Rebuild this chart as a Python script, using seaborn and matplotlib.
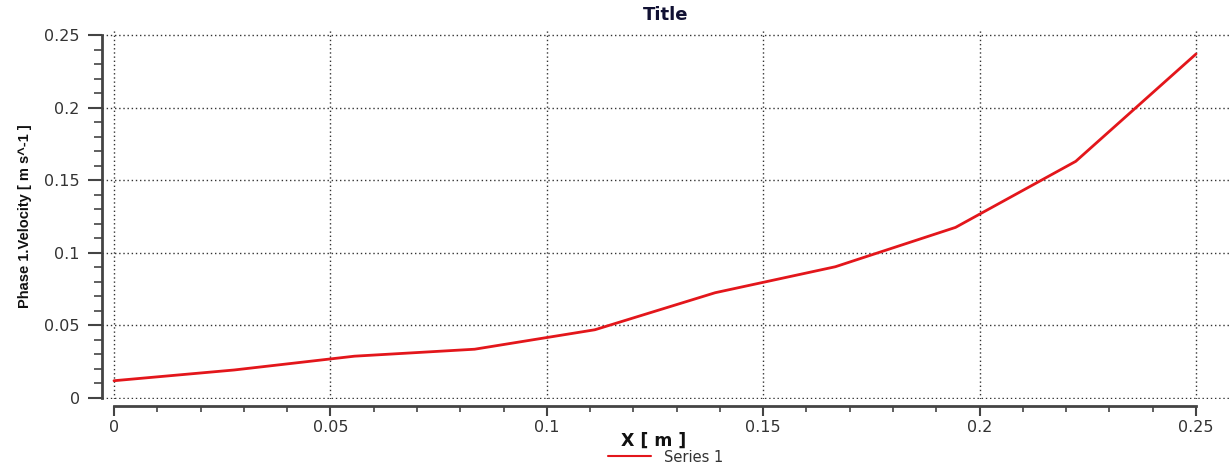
import numpy as np
import pandas as pd
import matplotlib
matplotlib.use("Agg")
import matplotlib.pyplot as plt
import seaborn as sns
from matplotlib.ticker import MultipleLocator, FixedLocator, FixedFormatter

# ---- data ----
x_m = [0.0, 0.02778, 0.05556, 0.08333, 0.11111, 0.13889, 0.16667, 0.19444, 0.22222, 0.25]
velocity = [0.0119, 0.0193, 0.0288, 0.0336, 0.0470, 0.0725, 0.0904, 0.1175, 0.1630, 0.2369]
series_name = "Series 1"
x_ticks = [0, 0.05, 0.1, 0.15, 0.2, 0.25]
x_tick_labels = ["0", "0.05", "0.1", "0.15", "0.2", "0.25"]
y_ticks = [0, 0.05, 0.1, 0.15, 0.2, 0.25]
y_tick_labels = ["0", "0.05", "0.1", "0.15", "0.2", "0.25"]

df = pd.DataFrame({"X": x_m, "V": velocity, "S": [series_name] * len(x_m)})

sns.set_style("white")
plt.rcParams["font.family"] = ["DejaVu Sans"]

W, H = 1229, 468
fig = plt.figure(figsize=(W / 100, H / 100), dpi=100)
ax = fig.add_axes([102 / W, (H - 399) / H, 1127 / W, 369 / H])

sns.lineplot(data=df, x="X", y="V", hue="S", palette=["#e3161b"], linewidth=2.0, ax=ax,
             legend=True)

ax.set_xlim(-12 * 0.25 / 1082, 0.25 + 33 * 0.25 / 1082)
ax.set_ylim(-0.25 / 363, 0.25 + 5 * 0.25 / 363)

ax.xaxis.set_major_locator(FixedLocator(x_ticks))
ax.xaxis.set_major_formatter(FixedFormatter(x_tick_labels))
ax.yaxis.set_major_locator(FixedLocator(y_ticks))
ax.yaxis.set_major_formatter(FixedFormatter(y_tick_labels))
ax.xaxis.set_minor_locator(MultipleLocator(0.01))
ax.yaxis.set_minor_locator(MultipleLocator(0.01))

ax.grid(True, which="major", linestyle=(0, (1, 2)), color="#333333", linewidth=1.0)
ax.set_axisbelow(True)

for s in ["top", "right"]:
    ax.spines[s].set_visible(False)
ax.spines["left"].set_color("#444444")
ax.spines["bottom"].set_color("#444444")
ax.spines["left"].set_linewidth(2)
ax.spines["bottom"].set_linewidth(2)
ax.spines["bottom"].set_position(("outward", 5.04))
ax.spines["left"].set_bounds(0, 0.25)
ax.spines["bottom"].set_bounds(0, 0.25)

ax.tick_params(axis="y", which="major", direction="out", length=10, width=1.5,
               color="#444444", labelsize=11.5, labelcolor="#333333", pad=6, left=True)
ax.tick_params(axis="y", which="minor", direction="out", length=6, width=1.2,
               color="#444444", left=True)
ax.tick_params(axis="x", which="major", direction="out", length=7, width=1.5,
               color="#444444", labelsize=11.5, labelcolor="#333333", pad=3, bottom=True)
ax.tick_params(axis="x", which="minor", direction="out", length=4, width=1.2,
               color="#444444", bottom=True)

ax.set_xlabel("X [ m ]", fontsize=12.5, fontweight="bold", color="#111111")
ax.xaxis.set_label_coords((654 - 102) / 1127, -(432 - 399) / 369)
ax.set_ylabel("Phase 1.Velocity [ m s^-1 ]", fontsize=10.5, fontweight="bold",
              family=["Liberation Sans Narrow", "Liberation Sans"], color="#111111")
ax.yaxis.set_label_coords((32 - 102) / 1127, (399 - 216) / 369)
ax.set_title("Title", fontsize=13, fontweight="bold", color="#111133", pad=7)

handles, labels = ax.get_legend_handles_labels()
ax.get_legend().remove()
leg = fig.legend(handles, labels, loc="center", bbox_to_anchor=(666 / W, 11 / H),
                 frameon=False, fontsize=10.5, handlelength=2.9, handletextpad=0.95,
                 borderpad=0)
for t in leg.get_texts():
    t.set_color("#333333")
for l in leg.get_lines():
    l.set_linewidth(1.5)

fig.savefig("out.png", dpi=100)
